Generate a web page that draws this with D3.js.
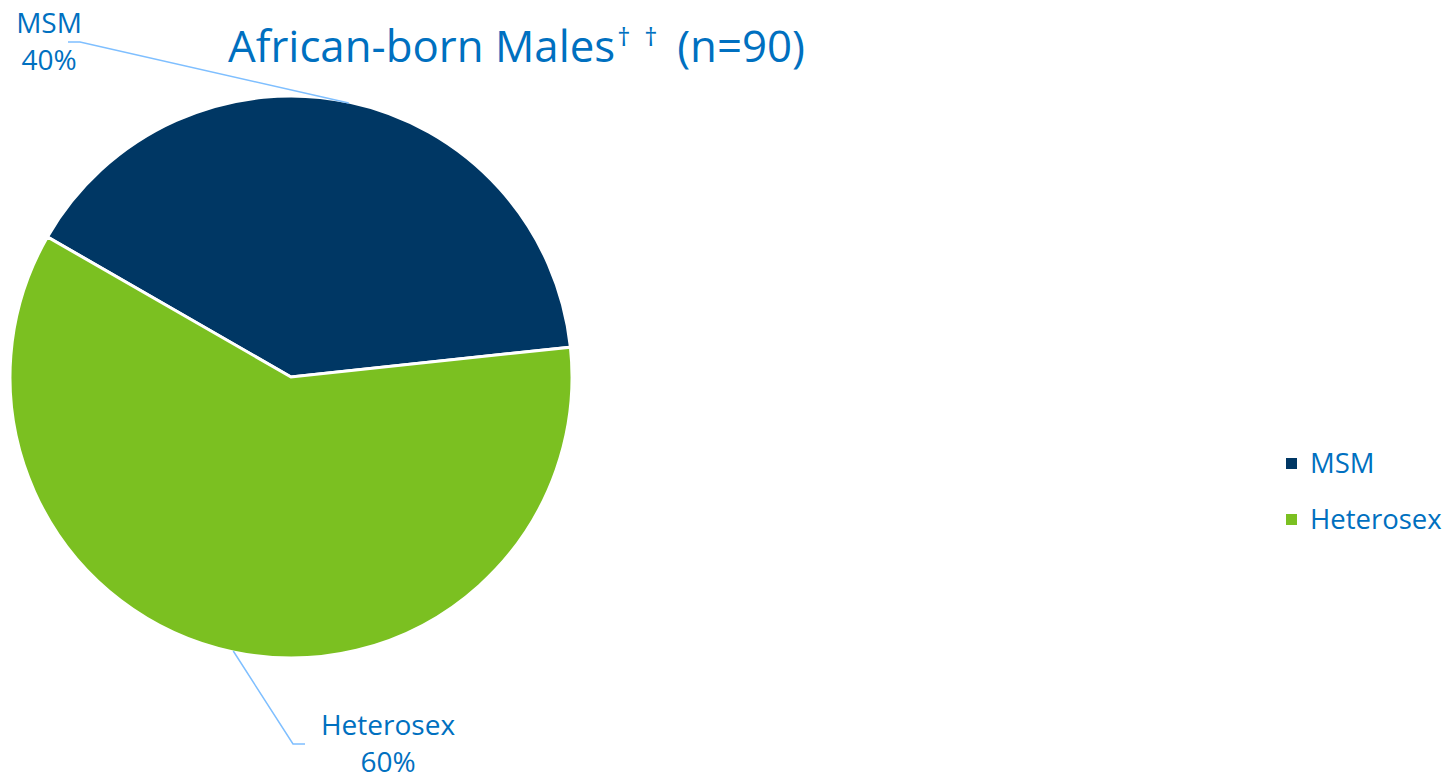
<!DOCTYPE html>
<html>
<head>
  <meta charset="utf-8">
  <title>African-born Males</title>
  <script type="text/javascript" src="https://cdn.jsdelivr.net/npm/d3@7"></script>
  <style>
    body { margin: 0; background: #fff; }
    text { font-family: "Open Sans", "Noto Sans", sans-serif; fill: #0070C0; }
  </style>
</head>
<body>
<div id="chart"></div>

<script type="text/javascript">
  var categories = ['MSM', 'Heterosex'];
  var values = [40, 60];
  var colors = ['#003764', '#7BC021'];

  var w = 1445;
  var h = 777;
  var svg = d3.select('#chart').append('svg')
    .attr('width', w)
    .attr('height', h);

  // title, daggers placed after measuring the main text
  var title = svg.append('text')
    .attr('x', 228)
    .attr('y', 62)
    .attr('font-size', '43.8px')
    .text('African-born Males');
  var tEnd = 228 + title.node().getComputedTextLength();
  svg.append('text').attr('x', tEnd + 2).attr('y', 46).attr('font-size', '26px').text('\u2020');
  svg.append('text').attr('x', tEnd + 29).attr('y', 46).attr('font-size', '26px').text('\u2020');
  svg.append('text').attr('x', tEnd + 62).attr('y', 62).attr('font-size', '43.8px').text('(n=90)');

  // pie
  var cx = 291, cy = 377, r = 281;
  var startDeg = -60.1;
  var pie = d3.pie().sort(null)
    .startAngle(startDeg * Math.PI / 180)
    .endAngle((startDeg + 360) * Math.PI / 180);
  var arcs = pie(values);
  var arc = d3.arc().innerRadius(0).outerRadius(r);

  var g = svg.append('g').attr('transform', 'translate(' + cx + ',' + cy + ')');
  g.selectAll('path')
    .data(arcs)
    .enter()
    .append('path')
    .attr('d', arc)
    .attr('fill', function(d, i) { return colors[i]; })
    .attr('stroke', '#fff')
    .attr('stroke-width', 3);

  // data labels with leader lines to the middle of each slice's rim
  var labels = [
    { lx: 49, ly: 33, line: [[68, 42], [80, 42]] },
    { lx: 388, ly: 735, line: [[305, 744], [293, 744]] }
  ];
  arcs.forEach(function(d, i) {
    var lb = labels[i];
    var a = (d.startAngle + d.endAngle) / 2;
    var rim = [cx + (r - 1) * Math.sin(a), cy - (r - 1) * Math.cos(a)];
    var pts = lb.line.concat([rim]);
    svg.append('path')
      .attr('d', d3.line()(pts))
      .attr('fill', 'none')
      .attr('stroke', '#7FBFFF')
      .attr('stroke-width', 1.5);
    var t = svg.append('text')
      .attr('text-anchor', 'middle')
      .attr('font-size', '28px');
    t.append('tspan').attr('x', lb.lx).attr('y', lb.ly).text(categories[i]);
    t.append('tspan').attr('x', lb.lx).attr('y', lb.ly + 37).text(values[i] + '%');
  });

  // legend
  var legend = svg.selectAll('.legend')
    .data(categories)
    .enter()
    .append('g')
    .attr('class', 'legend')
    .attr('transform', function(d, i) { return 'translate(1286,' + (458 + i * 56) + ')'; });
  legend.append('rect')
    .attr('width', 11)
    .attr('height', 11)
    .attr('fill', function(d, i) { return colors[i]; });
  legend.append('text')
    .attr('x', 24)
    .attr('y', 15)
    .attr('font-size', '27.5px')
    .text(function(d) { return d; });
</script>
</body>
</html>
